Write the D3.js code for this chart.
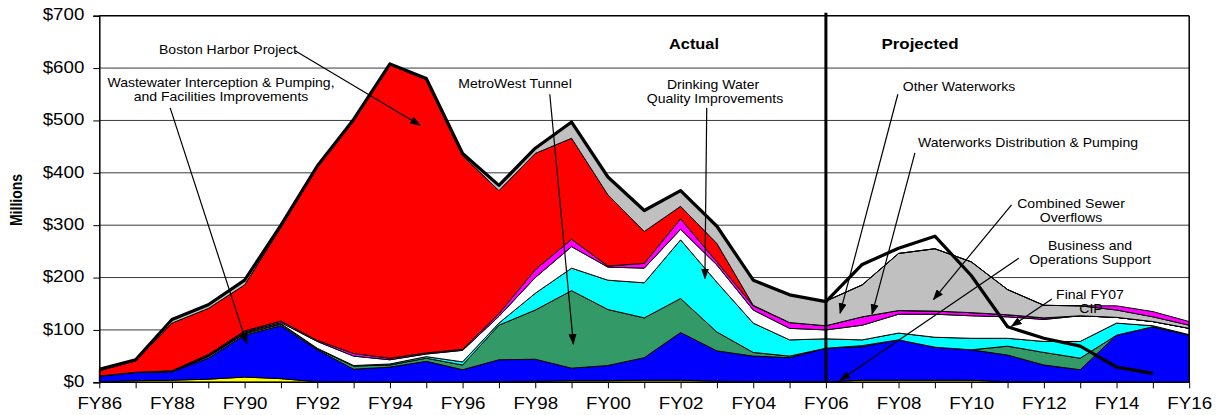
<!DOCTYPE html>
<html>
<head>
<meta charset="utf-8">
<script src="https://cdn.jsdelivr.net/npm/d3@7"></script>
<style>
  body { margin: 0; background: #fff; }
  svg { display: block; font-family: "Liberation Sans", Arial, sans-serif; }
</style>
</head>
<body>
<script>
const width = 1219;
const height = 415;

// fiscal years on the x axis
const years = ["FY86","FY87","FY88","FY89","FY90","FY91","FY92","FY93","FY94","FY95","FY96",
  "FY97","FY98","FY99","FY00","FY01","FY02","FY03","FY04","FY05","FY06",
  "FY07","FY08","FY09","FY10","FY11","FY12","FY13","FY14","FY15","FY16"];

const yTicks = [0, 100, 200, 300, 400, 500, 600, 700];

// stacked spending by program, $ millions (bottom to top)
const opsSupport   = [1,3,4,6,10,7,1,0,0,0,0, 1,2,3,3,4,4,2,1,1,1, 4,4,4,4,1,0,0,0,0,0];
const wastewater   = [11,16,16,40,80,101,61,25,29,40,24, 42,42,24,29,43,91,58,49,46,64, 64,77,63,58,51,33,24,90,106,90];
const metroWest    = [0,0,1,3,3,3,2,6,4,6,9, 66,94,148,107,76,65,36,7,3,0, 2,0,0,0,17,24,22,0,0,0];
const drinkingQual = [0,0,0,1,1,1,1,1,2,3,6, 4,32,43,56,67,112,95,56,31,18, 11,13,19,22,15,21,32,23,2,1];
const distribution = [0,0,0,1,2,2,13,18,8,5,22, 13,30,41,25,28,20,33,25,22,17, 28,36,44,43,41,42,49,11,8,12];
const otherWorksA  = [0,0,1,2,2,3,2,5,3,2,2, 5,15,14,2,9,20,6,8,11,8, 16,7,6,6,4,3,0,0,0,0];
const bostonHarbor = [10,22,91,88,88,179,331,445,560,522,370, 235,222,193,136,61,24,35,1,0,0, 0,0,0,0,0,0,0,0,0,0];
const cso          = [3,2,6,7,8,4,2,2,2,2,4, 10,10,31,34,40,30,33,48,53,47, 61,109,119,97,48,24,19,14,9,6];
const otherWorksB  = [0,0,0,0,0,0,0,0,0,0,0, 0,0,0,0,0,0,0,0,0,0, 0,0,0,0,0,0,0,8,10,7];

// actual totals through FY05, then the Final FY07 CIP projection
const totalCip = [25,43,120,148,195,300,413,502,608,580,437, 376,447,497,392,328,366,298,195,167,154,
  225,256,279,204,106,84,69,29,17,null];

const keys = ["opsSupport","wastewater","metroWest","drinkingQual","distribution","otherWorksA","bostonHarbor","cso","otherWorksB"];
const colors = {
  opsSupport: "#FFFF00", wastewater: "#0000FF", metroWest: "#339966", drinkingQual: "#00FFFF",
  distribution: "#FFFFFF", otherWorksA: "#FF00FF", bostonHarbor: "#FF0000", cso: "#C0C0C0", otherWorksB: "#FF00FF"
};
const cols = {opsSupport, wastewater, metroWest, drinkingQual, distribution, otherWorksA, bostonHarbor, cso, otherWorksB};

const table = years.map((fy, i) => {
  const row = {fy: fy};
  keys.forEach(k => row[k] = cols[k][i]);
  return row;
});

const plotLeft = 99.3, plotRight = 1189.2, plotTop = 15.7, plotBottom = 382.3;
const stretch = 1.17;

const x = d3.scalePoint().domain(years).range([plotLeft, plotRight]);
const xi = d3.scaleLinear().domain([0, years.length - 1]).range([plotLeft, plotRight]);
const y = d3.scaleLinear().domain([0, 700]).range([plotBottom, plotTop]);

const svg = d3.select("body").append("svg")
  .attr("width", width)
  .attr("height", height);

svg.append("defs").append("marker")
  .attr("id", "arrow")
  .attr("markerUnits", "userSpaceOnUse")
  .attr("markerWidth", 11).attr("markerHeight", 8)
  .attr("refX", 10).attr("refY", 4)
  .attr("orient", "auto")
  .append("path")
  .attr("d", "M0,0 L11,4 L0,8 z")
  .attr("fill", "#000");

// gridlines
svg.append("g").selectAll("line")
  .data(yTicks.filter(v => v > 0))
  .enter().append("line")
  .attr("x1", plotLeft).attr("x2", plotRight)
  .attr("y1", d => y(d)).attr("y2", d => y(d))
  .attr("stroke", d => d === 700 ? "#000" : "#3a3a3a")
  .attr("stroke-width", d => d === 700 ? 1.5 : 1);

// stacked areas
const stacked = d3.stack().keys(keys)(table);
const area = d3.area()
  .x(d => x(d.data.fy))
  .y0(d => y(d[0]))
  .y1(d => y(d[1]));

svg.append("g").selectAll("path")
  .data(stacked)
  .enter().append("path")
  .attr("d", area)
  .attr("fill", d => colors[d.key])
  .attr("stroke", "#000")
  .attr("stroke-width", 1)
  .attr("stroke-linejoin", "round");

// right border
svg.append("line")
  .attr("x1", plotRight).attr("x2", plotRight)
  .attr("y1", plotTop).attr("y2", plotBottom)
  .attr("stroke", "#000").attr("stroke-width", 1.5);

// axes
const yAxis = d3.axisLeft(y).tickValues(yTicks).tickSize(6).tickFormat(d => "$" + d);
const gy = svg.append("g").attr("transform", `translate(${plotLeft},0)`).call(yAxis);
gy.select(".domain").attr("stroke", "#000").attr("stroke-width", 1.5);
gy.selectAll(".tick line").attr("stroke", "#000");
gy.selectAll(".tick text")
  .attr("x", 0).attr("dy", null)
  .attr("transform", "translate(-15,0) scale(" + stretch + ",1)")
  .attr("dominant-baseline", "middle")
  .attr("font-size", 16)
  .attr("font-family", "'Liberation Sans', Arial, sans-serif")
  .attr("fill", "#000");

const xAxis = d3.axisBottom(x).tickSize(6).tickFormat((d, i) => i % 2 === 0 ? d : "");
const gx = svg.append("g").attr("transform", `translate(0,${plotBottom})`).call(xAxis);
gx.select(".domain").attr("stroke", "#000").attr("stroke-width", 1.5).attr("d", `M${plotLeft},0H${plotRight}`);
gx.selectAll(".tick line").attr("stroke", "#000");
gx.selectAll(".tick text")
  .attr("y", 0).attr("dy", null)
  .attr("transform", "translate(0,27) scale(" + stretch + ",1)")
  .attr("font-size", 16)
  .attr("font-family", "'Liberation Sans', Arial, sans-serif")
  .attr("fill", "#000");

// total / Final FY07 CIP line
const line = d3.line()
  .defined(d => d != null)
  .x((d, i) => x(years[i]))
  .y(d => y(d));
svg.append("path")
  .attr("d", line(totalCip))
  .attr("fill", "none")
  .attr("stroke", "#000")
  .attr("stroke-width", 3.2)
  .attr("stroke-linejoin", "round");

// actual / projected divider
svg.append("line")
  .attr("x1", x("FY06")).attr("x2", x("FY06"))
  .attr("y1", plotTop - 3).attr("y2", plotBottom)
  .attr("stroke", "#000").attr("stroke-width", 3);

// text helper, the original is slightly wide
function label(txt, px, py, size, bold) {
  svg.append("text")
    .attr("transform", `translate(${px},${py}) scale(${stretch},1)`)
    .attr("text-anchor", "middle")
    .attr("font-size", size)
    .attr("font-weight", bold ? "bold" : "normal")
    .attr("fill", "#000")
    .text(txt);
}

function arrow(x1, v1, x2, v2) {
  svg.append("line")
    .attr("x1", xi(x1)).attr("y1", y(v1))
    .attr("x2", xi(x2)).attr("y2", y(v2))
    .attr("stroke", "#000").attr("stroke-width", 1.2)
    .attr("marker-end", "url(#arrow)");
}

label("Actual", 694, 49, 14, true);
label("Projected", 920, 49, 14.5, true);

label("Boston Harbor Project", 228, 54, 12);
arrow(5.39, 633, 8.83, 491);

label("Wastewater Interception & Pumping,", 221, 87, 12);
label("and Facilities Improvements", 221, 101, 12);
arrow(1.95, 524, 4.06, 74);

label("MetroWest Tunnel", 515, 88, 12);
arrow(12.40, 550, 13.05, 73);

label("Drinking Water", 713, 89, 12);
label("Quality Improvements", 715, 103, 12);
arrow(16.72, 524, 16.67, 198);

label("Other Waterworks", 959, 91, 12);
arrow(21.98, 550, 20.39, 132);

label("Waterworks Distribution & Pumping", 1028, 147, 12);
arrow(22.45, 438, 21.27, 130);

label("Combined Sewer", 1071, 208, 12);
label("Overflows", 1071, 222, 12);
arrow(25.11, 339, 22.96, 158);

label("Business and", 1090, 250, 12);
label("Operations Support", 1090, 264, 12);
arrow(25.31, 237, 20.39, 4);

label("Final FY07", 1090, 299, 12);
label("CIP", 1091, 313, 12);
arrow(26.22, 159, 25.11, 107);

// y axis title
svg.append("text")
  .attr("transform", `translate(22,200) scale(${stretch},1) rotate(-90)`)
  .attr("text-anchor", "middle")
  .attr("font-size", 14)
  .attr("font-weight", "bold")
  .attr("fill", "#000")
  .text("Millions");
</script>
</body>
</html>
